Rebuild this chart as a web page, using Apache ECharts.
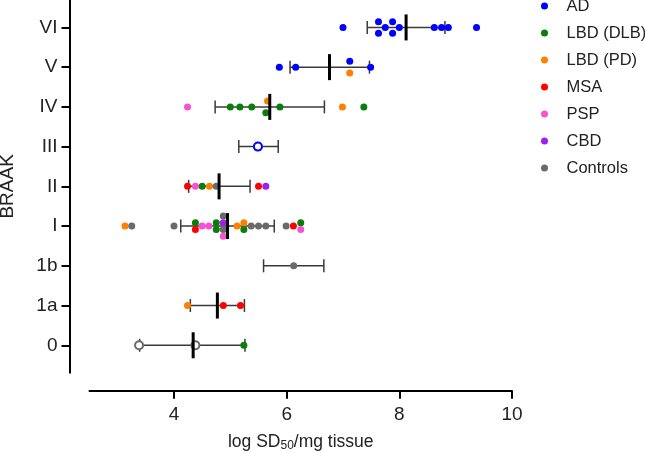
<!DOCTYPE html>
<html><head><meta charset="utf-8">
<script src="https://cdn.jsdelivr.net/npm/echarts@6/dist/echarts.min.js"></script>
<style>html,body{margin:0;padding:0;background:#fff}#c{width:645px;height:453px}</style>
</head><body><div id="c"></div>
<script>
// Braak stages (y categories, bottom to top)
const stageNames = ['0','1a','1b','I','II','III','IV','V','VI'];
const xTickValues = [4, 6, 8, 10];
const groupNames = ['AD','LBD (DLB)','LBD (PD)','MSA','PSP','CBD','Controls'];
const groupColors = ['#0000ff','#0a7d0a','#ff8000','#ff0000','#f652d2','#a01ef0','#6a6a6a'];

// points: [log SD50/mg, stage index, stack level within swarm, open marker]
const AD = [
  [7.00,8,0],[7.63,8,-0.85],[7.63,8,0.85],[7.75,8,0],[7.88,8,-0.85],[7.88,8,0.85],[8.00,8,0],
  [8.62,8,0],[8.75,8,0],[8.87,8,0],[9.37,8,0],
  [5.87,7,0],[6.16,7,0],[7.12,7,-0.85],[7.49,7,0],
  [5.49,5,0,1]
];
const DLB = [
  [5.00,6,0],[5.17,6,0],[5.38,6,0],[5.63,6,0.85],[5.88,6,0],[7.37,6,0],
  [4.50,4,0],
  [4.38,3,-0.5],[4.75,3,-0.5],[4.75,3,0.5],[5.24,3,0.5],[6.25,3,-0.5],
  [5.24,0,0]
];
const PD = [
  [7.12,7,0.85],
  [5.66,6,-0.85],[6.99,6,0],
  [4.63,4,0],
  [3.13,3,0],[5.12,3,0],[5.24,3,-0.5],
  [4.24,1,0]
];
const MSA = [
  [4.24,4,0],[5.50,4,0],
  [4.38,3,0.5],[6.12,3,0],
  [4.875,1,0],[5.18,1,0]
];
const PSP = [
  [4.24,6,0],
  [4.38,4,0],
  [4.50,3,0],[4.62,3,0],[4.875,3,1.5],[6.25,3,0.5]
];
const CBD = [
  [5.63,4,0],
  [4.875,3,-0.5]
];
const Controls = [
  [4.75,4,0],
  [3.25,3,0],[4.00,3,0],[4.875,3,-1.5],[4.875,3,0.5],[5.37,3,0],[5.50,3,0],[5.63,3,0],[5.99,3,0],
  [6.125,2,0],
  [3.38,0,0,1],[4.38,0,0,1]
];
const groupData = [AD, DLB, PD, MSA, PSP, CBD, Controls];

// mean ± SD per stage (index matches stageNames)
const sdLow  = [3.39,4.29,5.59,4.12,4.26,5.15,4.73,6.06,7.43];
const sdHigh = [5.26,5.25,6.66,5.78,5.35,5.85,6.67,7.47,8.81];
const means  = [4.34,4.77,null,4.95,4.80,null,5.70,6.76,8.12];

const STACK = 6.8;
const chart = echarts.init(document.getElementById('c'), null, {renderer:'canvas'});
const FONT = 'Liberation Sans, Arial, sans-serif';

const scatterSeries = groupNames.map((name, gi) => ({
  name, type:'scatter', z:3,
  symbolSize: 7,
  itemStyle:{color: groupColors[gi], opacity:1},
  data: groupData[gi].map(p => {
    const o = {value:[p[0], p[1]], symbolOffset:[0, p[2]*STACK]};
    if (p[3]) {
      o.symbol = 'emptyCircle'; o.symbolSize = 8;
      o.itemStyle = {color: groupColors[gi], borderColor: groupColors[gi], borderWidth: 1.3, opacity:1};
    }
    return o;
  })
}));

const barData = stageNames.map((s, i) => [i, sdLow[i], sdHigh[i]]);
const meanData = stageNames.map((s, i) => [i, means[i] == null ? NaN : means[i]]).filter(d => !isNaN(d[1]));

chart.setOption({
  animation:false,
  backgroundColor:'#fff',
  textStyle:{fontFamily: FONT},
  grid:{left:89.5, right:133, top:0, bottom:80.3, containLabel:false, outerBoundsMode:'none'},
  legend:{
    orient:'vertical', left:541, top:-3, padding:0, itemWidth:34, itemHeight:7, itemGap:9,
    icon:'circle',
    textStyle:{fontSize:16.5, lineHeight:18, color:'#222', fontFamily: FONT},
    data: groupNames
  },
  xAxis:{
    type:'value', min:2.5, max:10, offset:18,
    axisLine:{onZero:false, lineStyle:{color:'#000', width:2}},
    axisTick:{show:true, customValues: xTickValues, length:8, lineStyle:{color:'#000', width:2}},
    axisLabel:{customValues: xTickValues, fontSize:19, color:'#222', margin:15, fontFamily: FONT},
    splitLine:{show:false},
    name:'log SD{sub|50}/mg tissue', nameLocation:'middle', nameGap:41,
    nameTextStyle:{fontSize:17.5, color:'#222', fontFamily: FONT,
      rich:{sub:{fontSize:12, verticalAlign:'bottom', padding:[8,0,0,0], color:'#222', fontFamily: FONT}}}
  },
  yAxis:{
    type:'value', min:-0.69, max:8.69, offset:20,
    axisLine:{show:true, onZero:false, lineStyle:{color:'#000', width:2}},
    axisTick:{show:true, customValues:[0,1,2,3,4,5,6,7,8], length:8, lineStyle:{color:'#000', width:2}},
    axisLabel:{customValues:[0,1,2,3,4,5,6,7,8], formatter: v => stageNames[Math.round(v)],
      fontSize:19, color:'#222', margin:12, fontFamily: FONT},
    splitLine:{show:false},
    name:'BRAAK', nameLocation:'middle', nameRotate:90, nameGap:52,
    nameTextStyle:{fontSize:19, color:'#222', fontFamily: FONT}
  },
  series:[
    {
      type:'custom', z:2, silent:true,
      data: barData,
      encode:{x:[1,2], y:0},
      renderItem(params, api){
        const st = api.value(0);
        const a = api.coord([api.value(1), st]);
        const b = api.coord([api.value(2), st]);
        const style = {stroke:'#3a3a3a', lineWidth:1.5};
        const cap = 6.5;
        return {type:'group', children:[
          {type:'line', shape:{x1:a[0], y1:a[1], x2:b[0], y2:b[1]}, style},
          {type:'line', shape:{x1:a[0], y1:a[1]-cap, x2:a[0], y2:a[1]+cap}, style},
          {type:'line', shape:{x1:b[0], y1:b[1]-cap, x2:b[0], y2:b[1]+cap}, style}
        ]};
      }
    },
    {
      type:'custom', z:4, silent:true,
      data: meanData,
      encode:{x:1, y:0},
      renderItem(params, api){
        const c = api.coord([api.value(1), api.value(0)]);
        return {type:'line', shape:{x1:c[0], y1:c[1]-13, x2:c[0], y2:c[1]+13},
          style:{stroke:'#000', lineWidth:3}};
      }
    },
    ...scatterSeries
  ]
});
</script></body></html>
